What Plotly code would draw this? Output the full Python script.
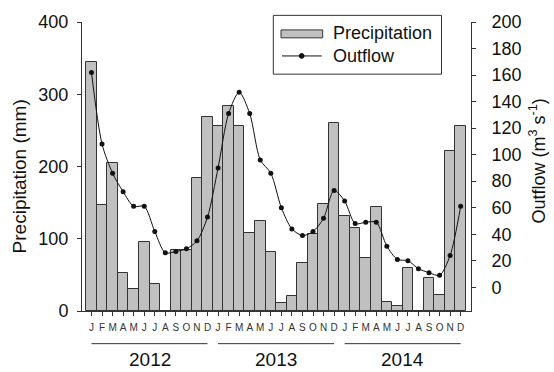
import plotly.graph_objects as go

months = ["J", "F", "M", "A", "M", "J", "J", "A", "S", "O", "N", "D"]
years = ["2012", "2013", "2014"]

precip_2012 = [345, 147, 205, 52, 31, 96, 37, 0, 85, 84, 184, 268]
precip_2013 = [256, 284, 256, 108, 125, 81, 11, 21, 66, 107, 148, 260]
precip_2014 = [132, 115, 74, 144, 12, 7, 59, 0, 46, 22, 222, 256]

outflow_2012 = [162, 108, 86, 72, 61, 61, 42, 26, 27, 29, 35, 53]
outflow_2013 = [90, 131, 147, 131, 96, 86, 60, 44, 39, 42, 52, 73]
outflow_2014 = [65, 48, 49, 49, 31, 21, 20, 14, 11, 9, 24, 61]

precip = precip_2012 + precip_2013 + precip_2014
outflow = outflow_2012 + outflow_2013 + outflow_2014
x = list(range(len(precip)))
ticktext = months * 3

FONT = "Arial, Liberation Sans, sans-serif"
AX = "#333333"

fig = go.Figure()
fig.add_trace(go.Bar(x=x, y=precip, name="Precipitation",
                     marker=dict(color="#c0c0c0", line=dict(color="#333333", width=1)),
                     showlegend=False))
fig.add_trace(go.Scatter(x=x, y=outflow, name="Outflow", yaxis="y2",
                         mode="lines+markers",
                         line=dict(color="#111111", width=1, shape="spline", smoothing=0.8),
                         marker=dict(color="#111111", size=5),
                         showlegend=False))

L, R, T, B = 82, 471, 19, 311
W, H = R - L, B - T

def px(xp):
    return (xp - L) / W

def py(yp):
    return (B - yp) / H

fig.update_layout(
    width=554, height=372,
    margin=dict(l=L, r=554 - R, t=T, b=372 - B),
    paper_bgcolor="white", plot_bgcolor="white",
    bargap=0,
    font=dict(family=FONT, color="#111111"),
    xaxis=dict(range=[-0.9, 35.98], tickvals=x, ticktext=ticktext,
               showgrid=False, zeroline=False, showline=True, linecolor=AX, linewidth=1,
               ticks="outside", ticklen=4, tickcolor=AX,
               tickfont=dict(size=10, color="#333333"), tickangle=0, ticklabelstandoff=3),
    yaxis=dict(range=[0, 400], tickvals=[0, 100, 200, 300, 400],
               showgrid=False, zeroline=False, showline=True, linecolor=AX, linewidth=1,
               ticks="outside", ticklen=4, tickcolor=AX,
               tickfont=dict(size=18, color="#111111"), ticklabelstandoff=5),
    yaxis2=dict(range=[-17.9, 200], overlaying="y", side="right",
                tickvals=list(range(0, 201, 20)),
                showgrid=False, zeroline=False, showline=True, linecolor=AX, linewidth=1,
                ticks="outside", ticklen=4, tickcolor=AX,
                tickfont=dict(size=18, color="#111111"), ticklabelstandoff=12),
)

# axis titles
fig.add_annotation(text="Precipitation (mm)", xref="paper", yref="paper",
                   x=px(19), y=py(175), showarrow=False, textangle=-90,
                   font=dict(size=19, family=FONT, color="#111111"),
                   xanchor="center", yanchor="middle")
fig.add_annotation(text="Outflow (m<sup>3</sup> s<sup>-1</sup>)", xref="paper", yref="paper",
                   x=px(538), y=py(160), showarrow=False, textangle=-90,
                   font=dict(size=18, family=FONT, color="#111111"),
                   xanchor="center", yanchor="middle")

# year underlines and labels
for i, yr in enumerate(years):
    fig.add_shape(type="line", xref="x", yref="paper",
                  x0=12 * i, x1=12 * i + 11, y0=py(344), y1=py(344),
                  line=dict(color="#333333", width=1))
    fig.add_annotation(text=yr, xref="x", yref="paper", x=12 * i + 5.5, y=py(360.5),
                       showarrow=False, font=dict(size=19, family=FONT, color="#111111"),
                       xanchor="center", yanchor="middle")

# manual legend
fig.add_shape(type="rect", xref="paper", yref="paper",
              x0=px(273.3), x1=px(441.5), y0=py(12.3), y1=py(71.7),
              line=dict(color="#333333", width=1), fillcolor="white", layer="above")
fig.add_shape(type="rect", xref="paper", yref="paper",
              x0=px(281), x1=px(322.7), y0=py(27), y1=py(35),
              line=dict(color="#333333", width=1), fillcolor="#c0c0c0", layer="above")
fig.add_shape(type="line", xref="paper", yref="paper",
              x0=px(282), x1=px(321.7), y0=py(53.3), y1=py(53.3),
              line=dict(color="#111111", width=1), layer="above")
fig.add_shape(type="circle", xref="paper", yref="paper",
              x0=px(299.3), x1=px(304.1), y0=py(50.9), y1=py(55.7),
              line=dict(color="#111111", width=1), fillcolor="#111111", layer="above")
fig.add_annotation(text="Precipitation", xref="paper", yref="paper",
                   x=px(331), y=py(30), showarrow=False,
                   font=dict(size=18, family=FONT, color="#111111"),
                   xanchor="left", yanchor="middle")
fig.add_annotation(text="Outflow", xref="paper", yref="paper",
                   x=px(331), y=py(53), showarrow=False,
                   font=dict(size=18, family=FONT, color="#111111"),
                   xanchor="left", yanchor="middle")

fig.write_html("out.html", config={"displayModeBar": False},
               post_script="document.body.style.margin='0';document.body.style.padding='0';")
